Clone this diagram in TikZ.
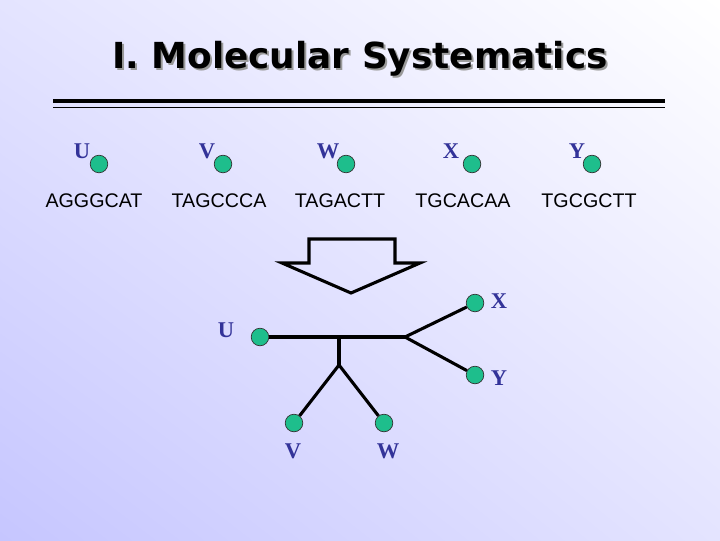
\documentclass[tikz,border=0pt]{standalone}
\usepackage{fontspec}
\usepackage{xcolor}
\setmainfont{Liberation Sans}
\newfontfamily\titlefont{DejaVu Sans}
\newfontfamily\taxonfont{Liberation Serif}
\usepackage{tikz}
\usetikzlibrary{shadings}

\definecolor{taxonblue}{RGB}{51,51,153}
\definecolor{dotgreen}{RGB}{30,190,140}
\definecolor{bglavender}{RGB}{198,198,255}
\definecolor{bgmid}{RGB}{228,228,255}

\tikzset{
    taxon/.style={font=\taxonfont\bfseries\fontsize{16}{18}\selectfont, text=taxonblue, inner sep=0pt},
    seq/.style={font=\fontsize{14}{16}\selectfont, inner sep=0pt},
    leaf/.style={circle, fill=dotgreen, draw=black!80, line width=0.5pt, minimum size=12.5pt, inner sep=0pt},
    branch/.style={line width=2.2pt, black},
}

\begin{document}
\begin{tikzpicture}[x=0.025cm, y=-0.025cm]
            % Background with a soft diagonal shade
            \shade[upper right=white, lower left=bglavender, upper left=bgmid, lower right=bgmid] (0,0) rectangle (720,540);
            \useasboundingbox (0,0) rectangle (720,540);

            % Title with its shadow
            \node[gray!80, font=\titlefont\bfseries\fontsize{25.5}{30}\selectfont] (titleshadow) at (362,61) {I. Molecular Systematics};
            \node[black, font=\titlefont\bfseries\fontsize{25.5}{30}\selectfont] (title) at (360,59) {I. Molecular Systematics};

            % Double rule under the title
            \draw[line width=3pt] (53,101) -- (665,101);
            \draw[line width=1.1pt] (53,107.5) -- (665,107.5);

            % Taxa with their sequences
            \foreach \name/\x/\dx/\dna in {U/82/17/AGGGCAT, V/207/16/TAGCCCA, W/328/18/TAGACTT, X/451/21/TGCACAA, Y/577/15/TGCGCTT} {
                \node[taxon] (lab\name) at (\x, 151) {\name};
                \node[leaf] (top\name) at (\x + \dx, 164) {};
                \node[seq] (seq\name) at (\x + 12, 201) {\dna};
            }

            % Hollow block arrow
            \draw[line width=2.2pt, line join=miter] (309,239) -- (395,239) -- (395,263) -- (420,263)
                -- (351,293) -- (282,263) -- (309,263) -- cycle;

            % The tree
            \coordinate (root) at (339,337);
            \coordinate (fork) at (405,337);
            \coordinate (low) at (339,365);

            \node[leaf] (U) at (260,337) {};
            \node[leaf] (X) at (475,303) {};
            \node[leaf] (Y) at (475,375) {};
            \node[leaf] (V) at (294,423) {};
            \node[leaf] (W) at (384,423) {};

            \draw[branch] (U) -- (fork);
            \draw[branch] (fork) -- (X);
            \draw[branch] (fork) -- (Y);
            \draw[branch] (root) -- (low);
            \draw[branch] (low) -- (V);
            \draw[branch] (low) -- (W);

            \node[taxon] (labU) at (226,330) {U};
            \node[taxon] (labX) at (499,301) {X};
            \node[taxon] (labY) at (499,378) {Y};
            \node[taxon] (labV) at (293,451) {V};
            \node[taxon] (labW) at (388,451) {W};
        \end{tikzpicture}
\end{document}
